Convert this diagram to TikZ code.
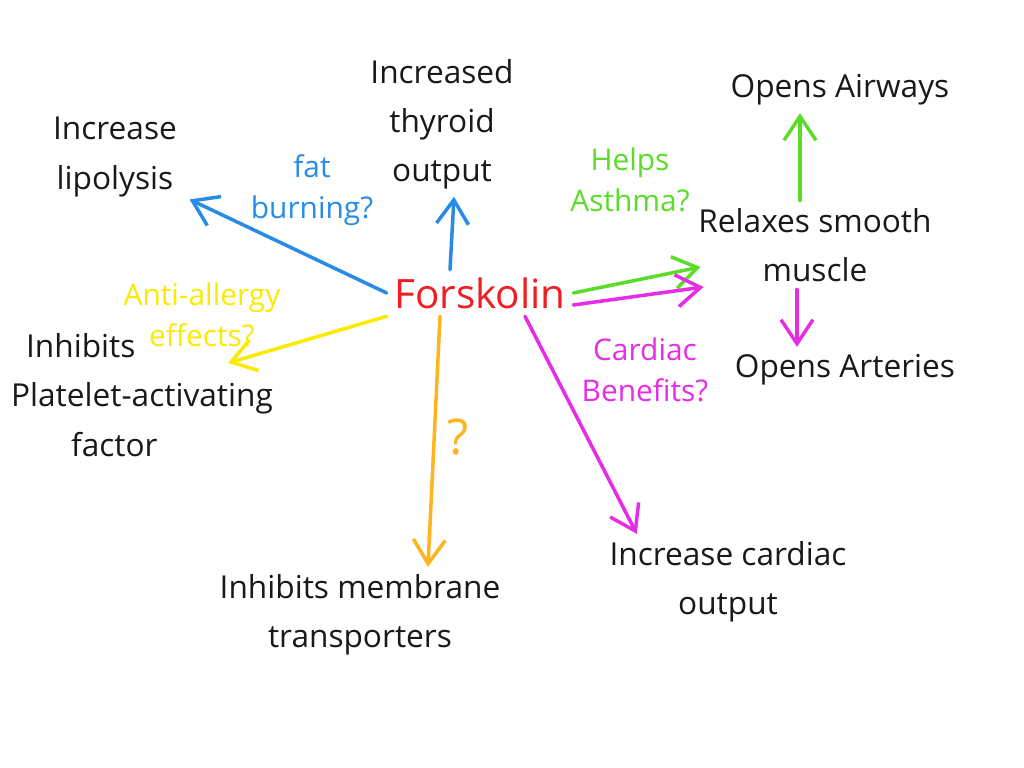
\documentclass[tikz,border=0pt]{standalone}
\usepackage{fontspec}
\setmainfont{Open Sans}
\usepackage{xcolor}
\usepackage{tikz}
\usetikzlibrary{arrows.meta,positioning,calc}

\definecolor{penred}{RGB}{240,30,35}
\definecolor{penblue}{RGB}{40,140,230}
\definecolor{pengreen}{RGB}{90,220,40}
\definecolor{penyellow}{RGB}{250,235,0}
\definecolor{penorange}{RGB}{255,180,30}
\definecolor{penpink}{RGB}{230,45,230}
\definecolor{penblack}{RGB}{25,25,25}

\begin{document}
\begin{tikzpicture}[
    effect/.style={text=penblack, align=center, font=\fontsize{9}{14}\selectfont, inner sep=2pt},
    note/.style={align=center, font=\fontsize{8.5}{11.5}\selectfont, inner sep=1pt},
    arrow/.style={-{Straight Barb[length=2.4mm,width=3.2mm]}, line width=1pt, line cap=round}
]

\useasboundingbox (0,0) rectangle (10.24,-7.68);

% Centre
\node[text=penred, font=\fontsize{11.5}{14}\selectfont, inner sep=2pt] (forskolin) at (4.8,-2.93) {Forskolin};

% Effects
\node[effect] (lipolysis) at (1.15,-1.57) {Increase\\lipolysis};
\node[effect] (thyroid) at (4.42,-1.24) {Increased\\thyroid\\output};
\node[effect] (airways) at (8.4,-0.9) {Opens Airways};
\node[effect] (smooth) at (8.15,-2.45) {Relaxes smooth\\muscle};
\node[effect] (arteries) at (8.45,-3.7) {Opens Arteries};
\node[effect] (cardiac) at (7.28,-5.82) {Increase cardiac\\output};
\node[effect] (membrane) at (3.6,-6.15) {Inhibits membrane\\transporters};
\node[effect, align=left] (platelet) at (1.42,-3.95) {\hspace*{0.15cm}Inhibits\\Platelet-activating\\\hspace*{0.6cm}factor};

% Notes on the arrows
\node[note, text=penblue] (fatburn) at (3.12,-1.9) {fat\\burning?};
\node[note, text=pengreen] (asthma) at (6.3,-1.8) {Helps\\Asthma?};
\node[note, text=penyellow] (allergy) at (2.02,-3.15) {Anti-allergy\\effects?};
\node[note, text=penpink] (benefits) at (6.45,-3.7) {Cardiac\\Benefits?};
\node[note, text=penorange, font=\fontsize{14}{16}\selectfont] (unknown) at (4.58,-4.37) {?};

% Arrows
\draw[arrow, penblue] (forskolin.west) -- ([shift={(0.05,0.05)}]lipolysis.south east);
\draw[arrow, penblue] ([xshift=-0.3cm]forskolin.north) -- ([xshift=0.12cm]thyroid.south);
\draw[arrow, penyellow] (forskolin.south west) -- ([shift={(0.26,-0.12)}]allergy.south);
\draw[arrow, penorange] ([xshift=-0.4cm]forskolin.south) -- ([xshift=0.68cm]membrane.north);
\draw[arrow, penpink] ([xshift=0.45cm]forskolin.south) -- ([xshift=0.35cm]cardiac.north west);
\draw[arrow, pengreen] ([yshift=0.0cm]forskolin.east) -- ([shift={(0.1,-0.22)}]smooth.west);
\draw[arrow, penpink] ([yshift=-0.12cm]forskolin.east) -- ([shift={(0.13,-0.42)}]smooth.west);
\draw[arrow, pengreen] ([xshift=-0.15cm]smooth.north) -- ([xshift=-0.15cm]smooth.north |- airways.south);
\draw[arrow, penpink] ([xshift=-0.18cm]smooth.south) -- ([xshift=-0.18cm]smooth.south |- arteries.north);

\end{tikzpicture}
\end{document}
